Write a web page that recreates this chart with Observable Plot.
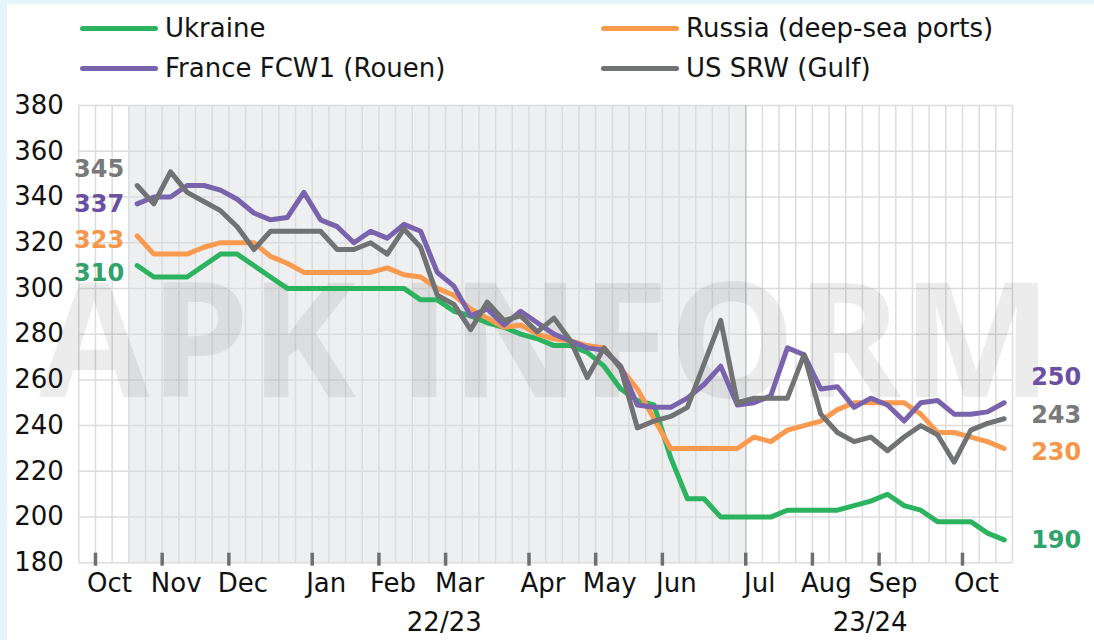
<!DOCTYPE html>
<html>
<head>
<meta charset="utf-8">
<script src="https://cdn.jsdelivr.net/npm/d3@7"></script>
<script src="https://cdn.jsdelivr.net/npm/@observablehq/plot@0.6"></script>
<style>
  html, body { margin: 0; padding: 0; background: #fff; }
  #wrap { position: relative; width: 1094px; height: 640px; overflow: hidden; background: #fff; font-family: "DejaVu Sans", sans-serif; }
  .strip-top { position: absolute; left: 0; top: 0; width: 1094px; height: 4px; background: #e4f6fc; }
  .strip-left { position: absolute; left: 0; top: 0; width: 7px; height: 640px; background: #e4f6fc; }
  #legend { position: relative; height: 88px; }
  .item { position: absolute; height: 40px; display: flex; align-items: center; font-size: 26px; color: #141414; white-space: nowrap; }
  .item .sw { width: 78px; height: 5px; border-radius: 3px; margin-right: 7px; }
  #chart svg { display: block; }
</style>
</head>
<body>
<div id="wrap">
  <div id="legend"></div>
  <div id="chart"></div>
  <div class="strip-top"></div>
  <div class="strip-left"></div>
</div>
<script>
// ---- data ----
const weekIndex = d3.range(3.5, 56, 1); // 53 weekly observations, Oct 22/23 .. Oct 23/24
const ukraine = [310,305,305,305,310,315,315,310,305,300, 300,300,300,300,300,300,300,295,295,290,
                 288,285,283,280,278,275,275,272,266,256, 251,249,226,208,208,200,200,200,200,203,
                 203,203,203,205,207,210,205,203,198,198, 198,193,190];
const russia  = [323,315,315,315,318,320,320,320,314,311, 307,307,307,307,307,309,306,305,300,297,
                 291,287,283,284,280,278,277,275,274,265, 256,243,230,230,230,230,230,235,233,238,
                 240,242,247,250,250,250,250,245,237,237, 235,233,230];
const france  = [337,340,340,345,345,343,339,333,330,331, 342,330,327,320,325,322,328,325,307,301,
                 288,291,284,290,285,280,277,274,273,266, 249,248,248,252,258,266,249,250,253,274,
                 271,256,257,248,252,249,242,250,251,245, 245,246,250];
const usSrw   = [345,337,351,342,338,334,327,317,325,325, 325,325,317,317,320,315,326,318,297,293,
                 282,294,286,288,281,287,277,261,274,265, 239,242,244,248,267,286,250,252,252,252,
                 271,245,237,233,235,229,235,240,236,224, 238,241,243];

const seriesNames = ["Ukraine", "Russia (deep-sea ports)", "France FCW1 (Rouen)", "US SRW (Gulf)"];
const seriesValues = [ukraine, russia, france, usSrw];
const lineColors  = ["#2cb35f", "#f99a4f", "#7a63ad", "#707274"];
const labelColors = ["#2fa36b", "#f7954a", "#6a4fa3", "#78797b"];

const monthTicks  = [1, 5, 9, 14, 18, 22, 27, 31, 35, 40, 44, 48, 53];
const monthLabels = ["Oct","Nov","Dec","Jan","Feb","Mar","Apr","May","Jun","Jul","Aug","Sep","Oct"];
const yTicks = [180, 200, 220, 240, 260, 280, 300, 320, 340, 360, 380];
const weekGrid = d3.range(0, 57);
const seasons = [{label: "22/23", from: 3, to: 40}, {label: "23/24", from: 40, to: 56}];

// ---- long table ----
const rows = [];
seriesNames.forEach((name, k) => seriesValues[k].forEach((v, i) => rows.push({series: name, x: weekIndex[i], value: v})));

// ---- legend ----
const legendPos = [[80, 8], [601, 8], [80, 48], [601, 48]];
const legend = document.getElementById("legend");
seriesNames.forEach((name, k) => {
  const it = document.createElement("div");
  it.className = "item";
  it.style.left = legendPos[k][0] + "px";
  it.style.top = legendPos[k][1] + "px";
  it.innerHTML = `<span class="sw" style="background:${lineColors[k]}"></span><span>${name}</span>`;
  legend.appendChild(it);
});

// ---- label nudges (styling only) ----
const firstDy = [8, 4, 0, -16];
const lastDy  = [0, 4, -25, -3];

const labelMarks = [];
seriesNames.forEach((name, k) => {
  const vals = seriesValues[k];
  const first = [{x: weekIndex[0], value: vals[0]}];
  const last = [{x: weekIndex[vals.length - 1], value: vals[vals.length - 1]}];
  labelMarks.push(Plot.text(first, {x: "x", y: "value", text: d => String(d.value), textAnchor: "end", dx: -13, dy: firstDy[k],
    fill: labelColors[k], fontWeight: 700, fontSize: 24}));
  labelMarks.push(Plot.text(last, {x: "x", y: "value", text: d => String(d.value), textAnchor: "start", dx: 27, dy: lastDy[k],
    fill: labelColors[k], fontWeight: 700, fontSize: 24}));
});

const chart = Plot.plot({
  width: 1094,
  height: 552,
  marginTop: 17,
  marginBottom: 77.7,
  marginLeft: 78.3,
  marginRight: 82,
  x: {domain: [0, 56], axis: null},
  y: {domain: [180, 380], axis: null},
  color: {domain: seriesNames, range: lineColors},
  style: {fontFamily: "DejaVu Sans, sans-serif", fontSize: "26px", background: "transparent", color: "#111", overflow: "visible"},
  marks: [
    Plot.rect(seasons.slice(0, 1), {x1: "from", x2: "to", fill: "#eeeff0"}),
    Plot.ruleX(weekGrid, {stroke: "#dcdcdc", strokeWidth: 1.5}),
    Plot.ruleY(yTicks, {stroke: "#dcdcdc", strokeWidth: 1.5}),
    Plot.ruleX(seasons.slice(1), {x: "from", stroke: "#c4c4c4", strokeWidth: 1.5}),
    Plot.text(["APK INFORM"], {frameAnchor: "middle", dy: 12, fontSize: 160, fontWeight: 700, fontFamily: "Open Sans, sans-serif",
      fill: "#000", fillOpacity: 0.075, ariaLabel: "watermark"}),
    Plot.line(rows, {x: "x", y: "value", z: "series", stroke: "series", strokeWidth: 5, strokeLinejoin: "round", strokeLinecap: "round"}),
    ...labelMarks,
    Plot.axisY(yTicks, {tickSize: 0, tickPadding: 15, fontSize: 26, fill: "#111", label: null}),
    Plot.axisX(monthTicks, {tickSize: 13, dy: -9.6, tickFormat: () => "", stroke: "#6f6f6f", strokeWidth: 3.5, label: null}),
    Plot.axisX(monthTicks, {tickSize: 0, tickPadding: 11, dx: 14, tickFormat: (d, i) => monthLabels[i], fontSize: 26, fill: "#111", label: null}),
    Plot.text(seasons.slice(0, 1), {x: d => (d.from + d.to) / 2, frameAnchor: "bottom", lineAnchor: "middle", dy: 60, dx: 7, text: "label", fontSize: 26, fill: "#111"}),
    Plot.text(seasons.slice(1), {x: d => (d.from + d.to) / 2, frameAnchor: "bottom", lineAnchor: "middle", dy: 60, dx: -9, text: "label", fontSize: 26, fill: "#111"})
  ]
});
document.getElementById("chart").appendChild(chart);
d3.select(chart).selectAll('g[aria-label="watermark"] text')
  .attr("textLength", 1100).attr("lengthAdjust", "spacing");
</script>
</body>
</html>
